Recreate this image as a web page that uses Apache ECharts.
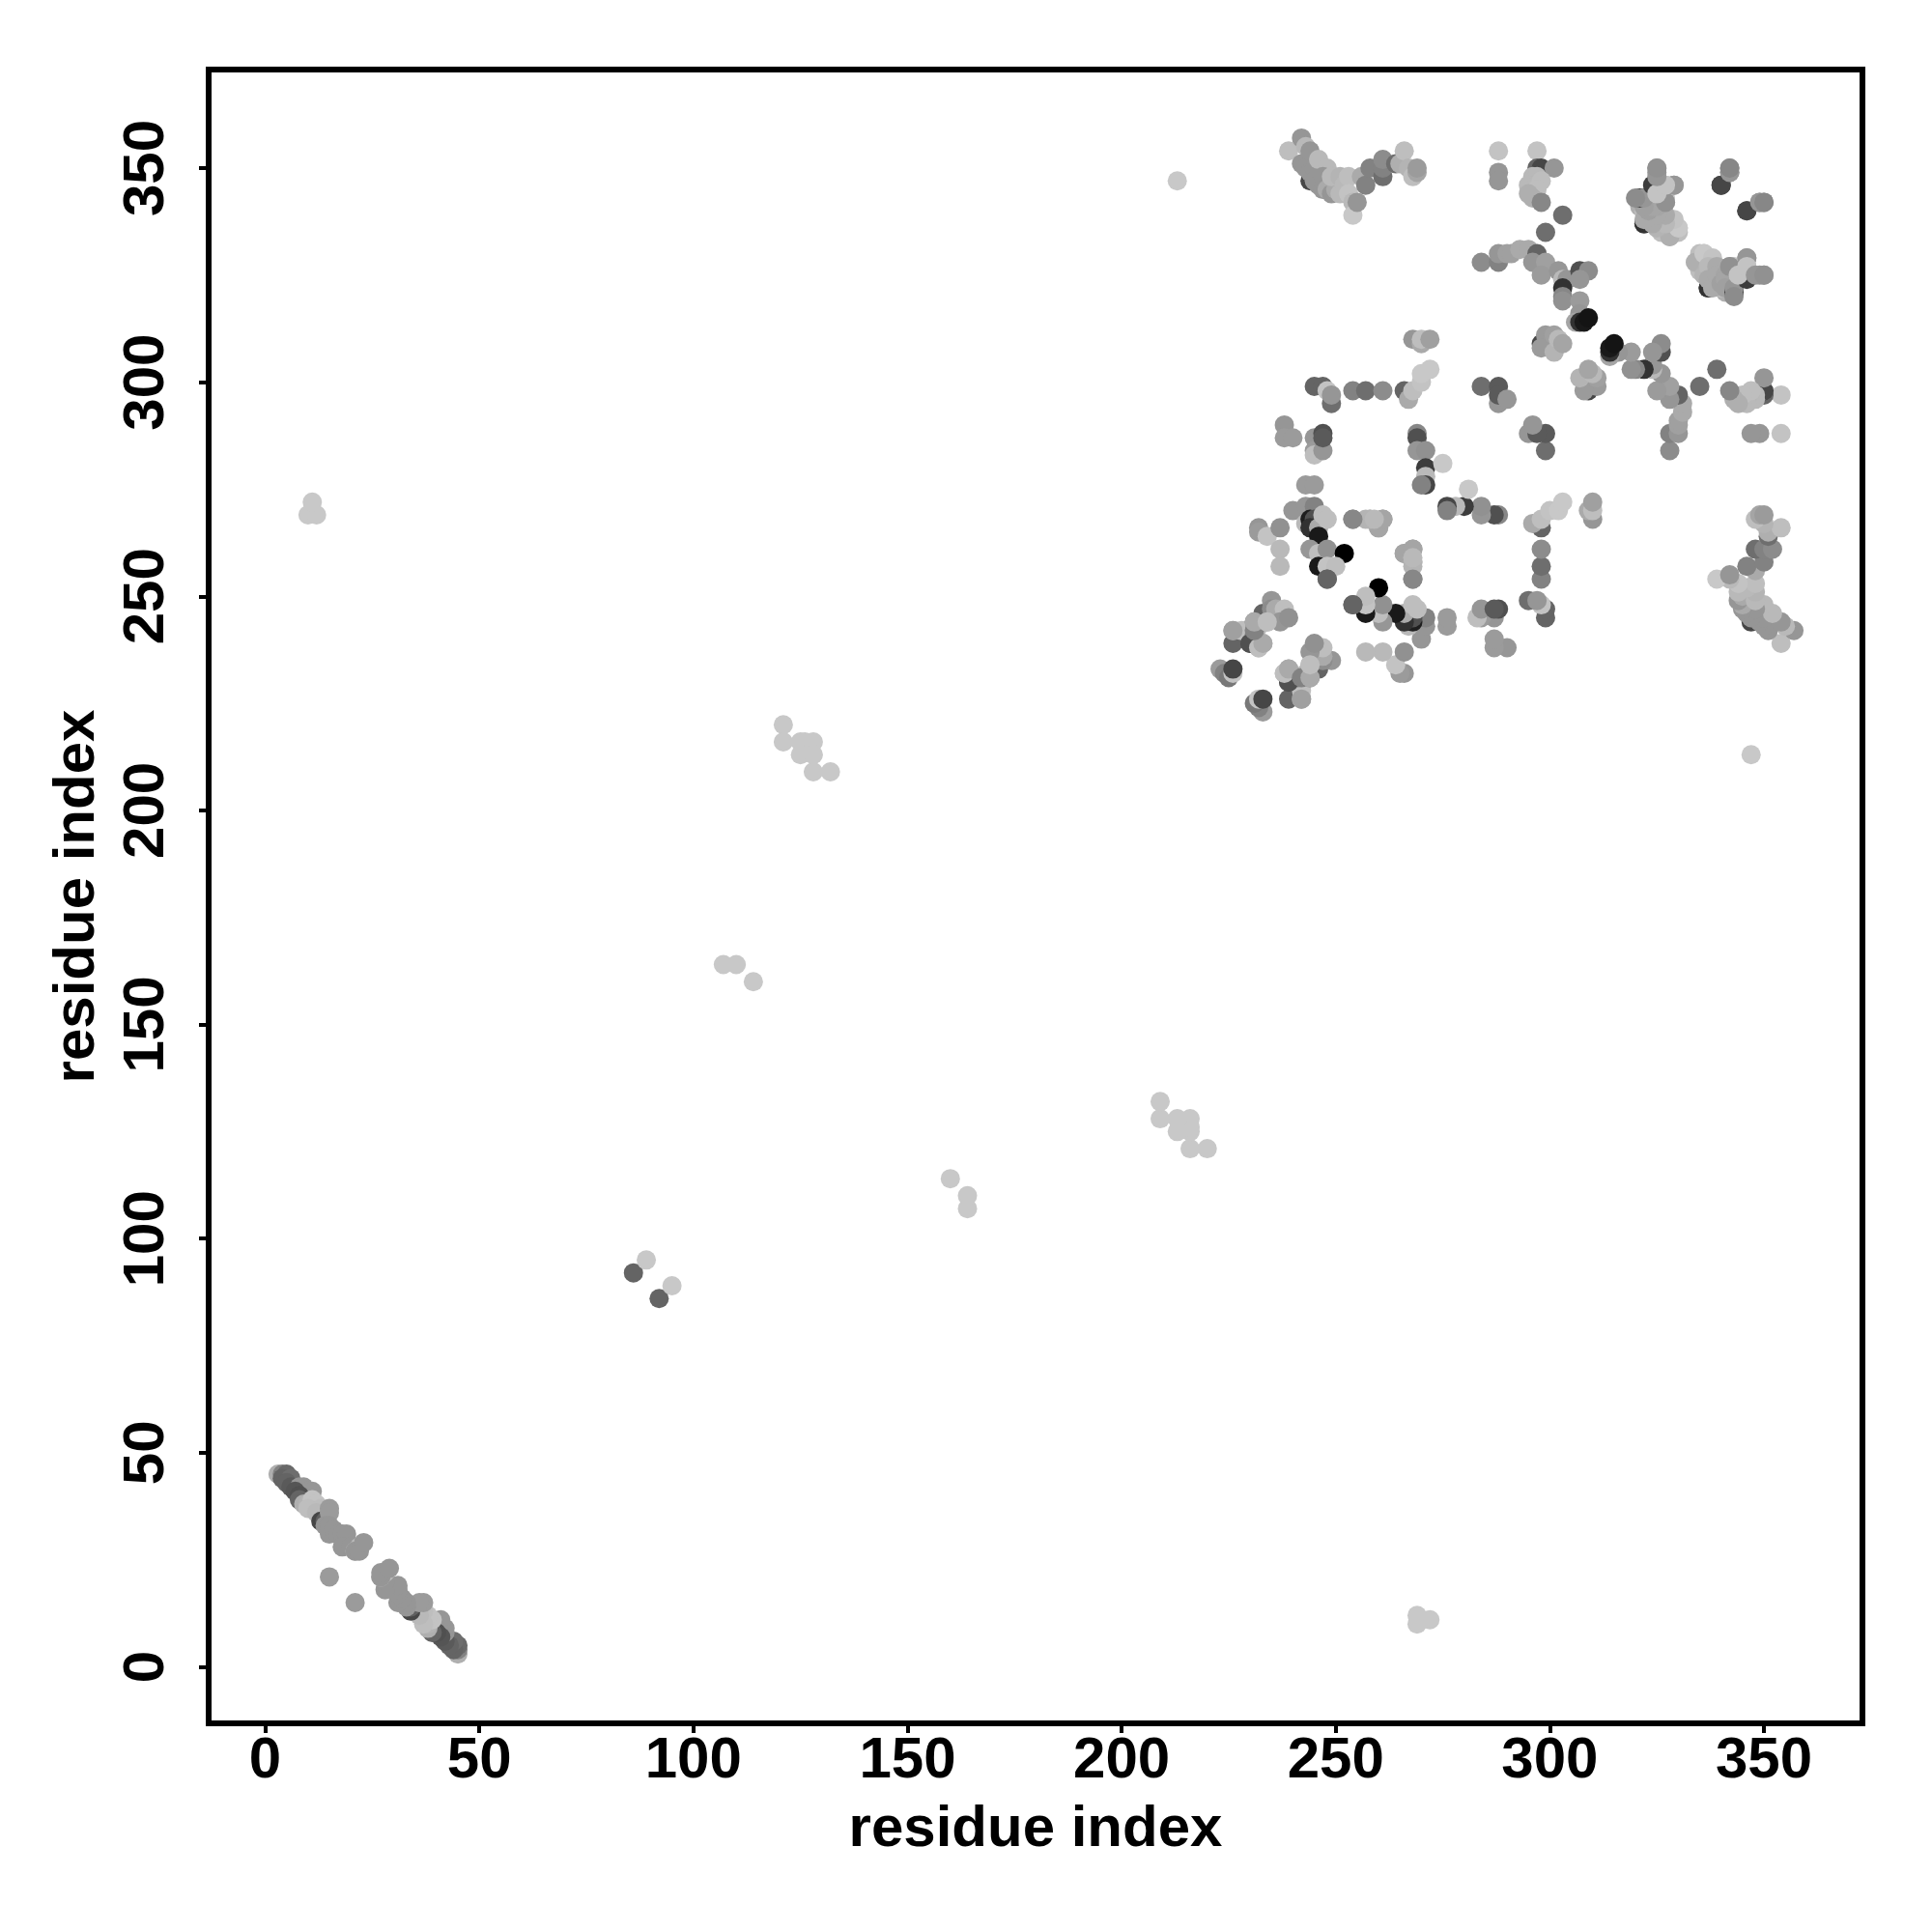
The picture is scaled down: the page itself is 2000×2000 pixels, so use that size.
<!DOCTYPE html>
<html><head><meta charset="utf-8">
<style>html,body{margin:0;padding:0;background:#fff}#c{width:2000px;height:2000px}</style>
<script src="https://cdn.jsdelivr.net/npm/echarts@6/dist/echarts.min.js"></script>
</head><body><div id="c"></div>
<script>
// contacts: [residue i, residue j, grey level]; the map is symmetric, each contact is drawn at (i,j) and (j,i)
const tickValues = [0,50,100,150,200,250,300,350];
const axisTitle = 'residue index';

const hairpinContacts = [
[3,45,175],[4,45,130],[5,45,105],[4,44,100],[6,44,110],[5,43,100],[6,42,90],[8,42,150],[9,42,150],[10,41,150],[11,41,150],
[7,41,85],[8,40,80],[8,39,100],[9,38,175],[10,38,180],[11,39,195],[12,38,195],[10,37,190],[13,37,190],[12,36,185],
[13,34,70],[14,34,95],[15,37,155],[15,36,155],[14,33,150],[15,33,150],[15,31,150],[16,32,150],[17,31,150],[18,31,150],[19,31,150],
[18,28,150],[20,28,150],[21,27,190],[22,28,185],[21,27,150],[22,27,150],[23,29,150],[15,21,155]
];
const sparseContacts = [
[10,269,200],[12,269,200],[11,272,200],[86,92,100],[89,95,200],
[107,164,200],[110,164,200],[114,160,200],
[121,220,200],[121,216,200],[125,216,200],[126,216,200],[128,216,200],[125,213,200],[128,213,200],[128,209,200],[132,209,200],
[213,347,200]
];
const farLeftContacts = [
[223,233,155],[224,232,130],[225,231,120],[226,232,195],[226,233,70],
[226,239,100],[226,242,170],[229,242,190],[228,242,190],[226,242,160],
[230,239,80],[231,239,100],[232,238,195],[233,239,170],
[231,244,140],[232,243,185],[231,241,130],[233,246,100],[234,244,185],[235,249,150],[235,247,140],[236,247,170],[238,247,190],[237,244,150],[239,245,145],
[230,239,80],[238,232,190],[239,233,170],[231,242,130],[231,244,170],[234,244,190],
[232,266,150],[232,265,155],[234,264,195],[237,266,145],[237,261,185],[237,257,185],
[238,290,150],[238,287,155],[240,287,155],[240,270,150]
];
const centreLeftContacts = [
[243,276,155],[245,276,155],[243,271,150],[245,271,130],[243,267,185],[244,268,30],[245,268,80],[244,266,50],[246,266,170],[247,269,190],[248,268,190],
[246,264,25],[244,261,150],[246,260,190],[248,261,145],[252,260,0],[246,257,25],[248,257,195],[250,257,190],[248,254,100],
[254,248,100],
[245,287,150],[245,284,155],[245,283,190],[247,284,150],[247,288,80],[247,287,90],
[245,299,100],[247,299,100],[248,298,195],[249,295,110],[249,297,150],
[254,298,130],[257,298,110],[261,298,140],
[254,268,135],[257,268,180],[258,268,180],[261,268,150],[260,266,160],
[266,260,165],[261,268,165],[258,268,180],[259,268,185],[254,268,135]
];
const strandVContacts = [
[239,354,190],[242,357,150],[243,355,185],[244,347,70],[242,351,150],[243,350,150],[244,354,150],[244,349,150],[245,350,150],[245,347,150],[246,352,185],[248,350,185],
[246,346,150],[247,348,150],[247,345,150],[248,345,170],[249,344,150],[250,345,170],[249,348,185],[251,348,180],[251,344,185],[252,346,185],[253,348,190],[253,344,195],[254,342,185],[254,339,200],[255,342,150],
[256,348,170],[257,346,130],[258,350,130],[261,348,110],[261,350,130],[261,352,140],[264,351,110],[265,351,175],[266,354,190],[267,350,180],[268,348,190],[269,349,165],[269,350,155]
];
const middleContacts = [
[266,298,100],[268,310,150],[270,309,170],[270,310,190],[272,310,160],[267,296,170],[268,298,190],[270,300,195],[270,302,200],[272,303,200],
[269,288,135],[269,287,80],[269,284,150],[271,284,145],[271,280,60],[271,278,185],[271,276,70],[270,276,130],[275,281,200],
[284,299,110],[284,328,140],[288,328,130],[288,330,150],[290,330,160],
[288,354,195],[288,349,150],[288,347,150],
[288,299,90],[288,295,150],[288,297,90],[290,296,150]
];
const upperRightContacts = [
[291,330,160],[293,331,170],[295,331,170],[297,330,100],[296,328,150],[299,328,160],[298,325,155],[302,326,150],[303,324,185],[304,324,150],[303,322,50],
[303,320,135],[303,319,145],[307,326,80],[309,326,140],[307,324,150],[307,319,155],[307,316,150],[306,314,165],[307,314,50],[308,314,25],[309,315,20],
[298,309,70],[299,311,155],[298,308,155],[301,311,160],[301,307,180],[302,310,185],[303,309,165],
[297,354,195],[297,350,100],[298,350,70],[301,350,150],[296,348,185],[297,348,185],[296,346,180],[295,346,185],[297,346,185],[298,347,190],[297,345,190],[296,343,175],[295,344,175],[298,342,135],[303,339,110],[299,335,110],
[325,350,150],[325,349,150],[325,346,70],[327,346,190],[329,346,150],[322,343,70],[321,343,85],[322,337,50],[321,341,175],[322,340,190],[323,341,160],[327,343,195],[327,342,160],
[324,338,150],[325,337,165],[324,342,160],[325,340,165],[326,340,170],[327,339,180],[329,337,195],
[323,339,165],[326,338,170],[326,335,190],[328,338,200],[330,336,200],[328,334,195],
[342,349,150],[342,350,135],[340,346,70],[346,340,70],[349,342,150],[350,342,135],
[337,322,50],[335,330,190],[334,328,175],[336,330,200],[338,329,195],[336,325,180],[337,327,185],[337,324,170],[338,322,170],[339,327,170],[339,325,170],[340,323,160],[341,325,165],[341,324,165],[341,322,160],[342,327,145],[343,321,60],[343,322,150],[343,320,140],
[346,324,60],[346,329,150],[344,325,195],[346,327,195],[348,325,150],[350,325,145]
];

const contacts = [...sparseContacts, ...hairpinContacts, ...farLeftContacts, ...centreLeftContacts, ...strandVContacts, ...middleContacts, ...upperRightContacts];
const pointData = [];
contacts.forEach(([i,j,g]) => {
  const color = `rgb(${g},${g},${g})`;
  pointData.push({value:[i,j], itemStyle:{color}});
  pointData.push({value:[j,i], itemStyle:{color}});
});

const tickFont = {fontFamily:'"Liberation Sans"', fontWeight:'bold', fontSize:60, color:'#000'};
const tickStyle = {show:true, inside:false, length:10, lineStyle:{color:'#000',width:4}, customValues:tickValues};
const chart = echarts.init(document.getElementById('c'), null, {renderer:'canvas'});
chart.setOption({
  animation:false,
  backgroundColor:'#fff',
  grid:{left:216, right:72, top:72, bottom:216, show:true, borderColor:'#000', borderWidth:6, backgroundColor:'#fff'},
  xAxis:{type:'value', min:-13.2, max:373, splitLine:{show:false},
    axisLine:{show:false, onZero:false},
    axisTick:tickStyle,
    axisLabel:{...tickFont, margin:9, customValues:tickValues, hideOverlap:false},
    name:axisTitle, nameLocation:'middle', nameGap:80, nameTextStyle:{...tickFont}},
  yAxis:{type:'value', min:-13.2, max:373, splitLine:{show:false},
    axisLine:{show:false, onZero:false},
    axisTick:tickStyle,
    axisLabel:{...tickFont, rotate:90, margin:34, customValues:tickValues, hideOverlap:false},
    name:axisTitle, nameLocation:'middle', nameGap:106, nameRotate:90, nameTextStyle:{...tickFont}},
  series:[{type:'scatter', symbol:'circle', symbolSize:20, data:pointData, clip:true, itemStyle:{opacity:1}}]
});
</script></body></html>
